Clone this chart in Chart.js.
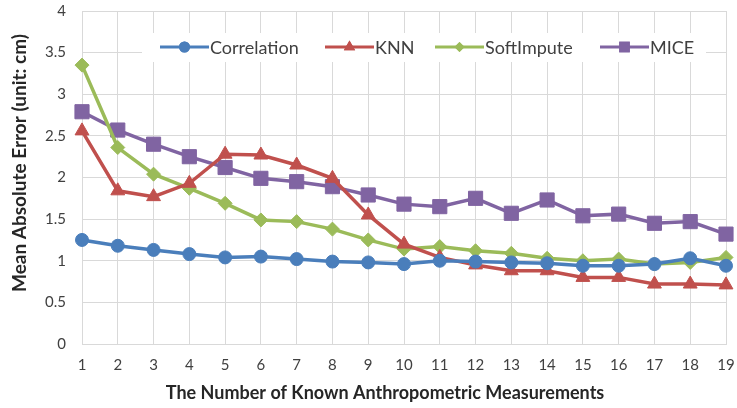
<!DOCTYPE html>
<html>
<head>
<meta charset="utf-8">
<script src="https://cdn.jsdelivr.net/npm/chart.js@4/dist/chart.umd.min.js"></script>
<style>
html,body{margin:0;padding:0;background:#fff;}
#wrap{width:737px;height:408px;position:relative;}
</style>
</head>
<body>
<div id="wrap"><canvas id="c"></canvas></div>
<script>
const categories = ["1","2","3","4","5","6","7","8","9","10","11","12","13","14","15","16","17","18","19"];
const correlation = [1.25,1.18,1.13,1.08,1.04,1.05,1.02,0.99,0.98,0.96,1.00,0.99,0.98,0.97,0.94,0.94,0.96,1.03,0.94];
const knn = [2.56,1.84,1.77,1.93,2.28,2.27,2.15,1.99,1.55,1.20,1.04,0.95,0.88,0.88,0.80,0.80,0.72,0.72,0.71];
const softImpute = [3.35,2.36,2.04,1.87,1.69,1.49,1.47,1.38,1.25,1.14,1.17,1.12,1.09,1.03,1.00,1.02,0.96,0.98,1.04];
const mice = [2.79,2.57,2.40,2.25,2.12,1.99,1.95,1.89,1.79,1.68,1.65,1.75,1.57,1.73,1.54,1.56,1.45,1.47,1.32];
const yTicks = [0,0.5,1,1.5,2,2.5,3,3.5,4];
const xTitle = 'The Number of Known Anthropometric Measurements';
const yTitle = 'Mean Absolute Error (unit: cm)';

const FONT = "Lato, 'Open Sans', sans-serif";
const TXT = "#404040";
const TITLE_TXT = "#262626";

const seriesStyle = [
  {label:"Correlation", data:correlation, color:"#4a7ebb", point:"circle", r:6.5, lr:5.5},
  {label:"KNN", data:knn, color:"#c0504d", point:"triangle", r:8, lr:6.5},
  {label:"SoftImpute", data:softImpute, color:"#9bbb59", point:"rectRot", r:7, lr:5},
  {label:"MICE", data:mice, color:"#8064a2", point:"rect", r:10, lr:7.5}
];

const legendPlugin = {
  id: 'inlineLegend',
  afterDraw(chart) {
    const ctx = chart.ctx;
    const y = 47;
    ctx.save();
    ctx.fillStyle = '#ffffff';
    ctx.fillRect(142, 33, 564, 29);
    ctx.font = "18px " + FONT;
    ctx.textBaseline = 'middle';
    const xs = [160, 325, 435, 600];
    chart.data.datasets.forEach((ds, i) => {
      const x0 = xs[i];
      const lineLen = 49;
      ctx.strokeStyle = ds.borderColor;
      ctx.lineWidth = 3;
      ctx.beginPath();
      ctx.moveTo(x0, y);
      ctx.lineTo(x0 + lineLen, y);
      ctx.stroke();
      ctx.fillStyle = ds.borderColor;
      ctx.beginPath();
      Chart.helpers.drawPoint(ctx, {pointStyle: ds.pointStyle, radius: seriesStyle[i].lr, rotation: 0, borderWidth: 0}, x0 + lineLen/2, y);
      ctx.fill();
      ctx.fillStyle = TXT;
      ctx.fillText(ds.label, x0 + lineLen + 1, y + 1);
    });
    ctx.restore();
  }
};

const axisTitlePlugin = {
  id: 'axisTitles',
  afterDraw(chart) {
    const ctx = chart.ctx;
    ctx.save();
    ctx.fillStyle = TITLE_TXT;
    ctx.textAlign = 'center';
    ctx.textBaseline = 'middle';
    ctx.font = "bold 18px " + FONT;
    ctx.fillText(xTitle, 385, 393);
    ctx.translate(20, 163);
    ctx.rotate(-Math.PI / 2);
    ctx.font = "bold 19px " + FONT;
    ctx.fillText(yTitle, 0, 0);
    ctx.restore();
  }
};

const datasets = seriesStyle.map(s => ({
  label: s.label,
  data: s.data,
  borderColor: s.color,
  backgroundColor: s.color,
  pointBackgroundColor: s.color,
  pointBorderColor: s.color,
  pointStyle: s.point,
  pointRadius: s.r,
  pointHoverRadius: s.r,
  pointBorderWidth: 1,
  borderWidth: 3.5,
  tension: 0,
  fill: false
}));

new Chart(document.getElementById('c'), {
  type: 'line',
  data: { labels: categories, datasets: datasets },
  options: {
    responsive: true,
    maintainAspectRatio: false,
    animation: false,
    layout: { padding: 0 },
    plugins: {
      legend: { display: false },
      tooltip: { enabled: false }
    },
    scales: {
      x: {
        offset: false,
        grid: { color: '#d9d9d9', lineWidth: 1, drawTicks: false },
        border: { color: '#d9d9d9', width: 1 },
        ticks: { color: TXT, font: { family: FONT, size: 15 }, padding: 12, maxRotation: 0, autoSkip: false },
        afterFit(scale) { scale.height = 64; scale.paddingLeft = 0; scale.paddingRight = 9; }
      },
      y: {
        min: 0, max: 4,
        afterBuildTicks(scale) { scale.ticks = yTicks.map(v => ({ value: v })); },
        grid: { color: '#d9d9d9', lineWidth: 1, drawTicks: false },
        border: { display: false },
        ticks: { color: TXT, font: { family: FONT, size: 15 }, padding: 16, callback: v => String(v) },
        afterFit(scale) { scale.width = 82; scale.paddingTop = 8; scale.paddingBottom = 0; }
      }
    }
  },
  plugins: [legendPlugin, axisTitlePlugin]
});
</script>
</body>
</html>
